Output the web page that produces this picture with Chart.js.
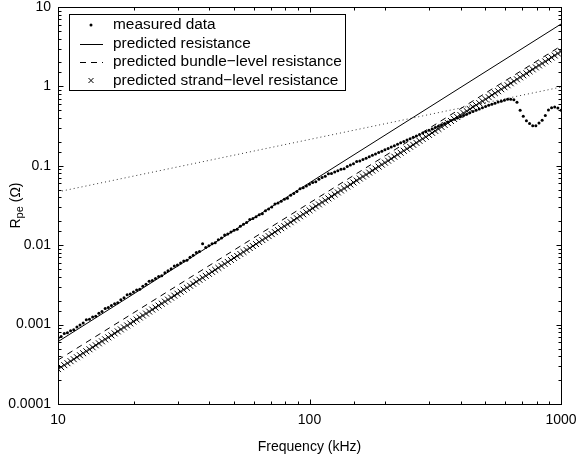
<!DOCTYPE html>
<html>
<head>
<meta charset="utf-8">
<script src="https://cdn.jsdelivr.net/npm/chart.js@4.4.1/dist/chart.umd.min.js"></script>
<style>
  html, body { margin: 0; padding: 0; background: #fff; }
  canvas { display: block; }
</style>
</head>
<body>
<canvas id="chart" width="576" height="458"></canvas>
<script>
// frequency points of the measurement (kHz)
const freq = [
  10, 10.29, 10.59, 10.9, 11.22, 11.55, 11.89, 12.23, 12.59, 12.96,
  13.34, 13.73, 14.13, 14.54, 14.96, 15.4, 15.85, 16.31, 16.79, 17.28,
  17.78, 18.3, 18.84, 19.39, 19.95, 20.54, 21.14, 21.75, 22.39, 23.04,
  23.71, 24.41, 25.12, 25.85, 26.61, 27.38, 28.18, 29.01, 29.85, 30.73,
  31.62, 32.55, 33.5, 34.48, 35.48, 36.52, 37.58, 38.68, 39.81, 40.97,
  42.17, 43.4, 44.67, 45.97, 47.32, 48.7, 50.12, 51.58, 53.09, 54.64,
  56.23, 57.88, 59.57, 61.31, 63.1, 64.94, 66.83, 68.79, 70.79, 72.86,
  74.99, 77.18, 79.43, 81.75, 84.14, 86.6, 89.13, 91.73, 94.41, 97.16,
  100, 102.9, 105.9, 109, 112.2, 115.5, 118.9, 122.3, 125.9, 129.6,
  133.4, 137.3, 141.3, 145.4, 149.6, 154, 158.5, 163.1, 167.9, 172.8,
  177.8, 183, 188.4, 193.9, 199.5, 205.4, 211.4, 217.5, 223.9, 230.4,
  237.1, 244.1, 251.2, 258.5, 266.1, 273.8, 281.8, 290.1, 298.5, 307.3,
  316.2, 325.5, 335, 344.8, 354.8, 365.2, 375.8, 386.8, 398.1, 409.7,
  421.7, 434, 446.7, 459.7, 473.2, 487, 501.2, 515.8, 530.9, 546.4,
  562.3, 578.8, 595.7, 613.1, 631, 649.4, 668.3, 687.9, 707.9, 728.6,
  749.9, 771.8, 794.3, 817.5, 841.4, 866, 891.3, 917.3, 944.1, 971.6,
  1000
];

// measured R_pe (ohm)
const measured = [
  0.000668, 0.000707, 0.000775, 0.000791, 0.000837, 0.00086, 0.000936, 0.00099, 0.001048, 0.00115,
  0.001172, 0.001243, 0.00127, 0.001386, 0.001467, 0.0016, 0.001641, 0.001735, 0.001836, 0.00188,
  0.002054, 0.002172, 0.00238, 0.002429, 0.00257, 0.002718, 0.00279, 0.003041, 0.003217, 0.00352,
  0.003598, 0.003806, 0.004025, 0.00413, 0.004503, 0.004763, 0.005038, 0.00548, 0.005635, 0.00596,
  0.006304, 0.00648, 0.007053, 0.007461, 0.00812, 0.008347, 0.0104, 0.009336, 0.009875, 0.01045,
  0.01075, 0.01169, 0.01236, 0.01345, 0.01383, 0.01462, 0.01547, 0.0159, 0.0173, 0.0183,
  0.01936, 0.0211, 0.02165, 0.0229, 0.02423, 0.0249, 0.0271, 0.02867, 0.03033, 0.033,
  0.03392, 0.03588, 0.03795, 0.0391, 0.04245, 0.0449, 0.0475, 0.0515, 0.05283, 0.05572,
  0.05877, 0.06163, 0.0629, 0.06777, 0.07106, 0.074, 0.0792, 0.0802, 0.0835, 0.08693,
  0.0905, 0.0918, 0.0981, 0.1021, 0.1063, 0.1135, 0.1153, 0.12, 0.1249, 0.1301,
  0.1354, 0.141, 0.1468, 0.1528, 0.1591, 0.1656, 0.1724, 0.1795, 0.1869, 0.1946,
  0.2026, 0.2109, 0.2196, 0.2286, 0.238, 0.2478, 0.258, 0.2686, 0.2797, 0.2912,
  0.3032, 0.3156, 0.3286, 0.3421, 0.3562, 0.3708, 0.385, 0.3996, 0.4149, 0.4307,
  0.4471, 0.4642, 0.4819, 0.5002, 0.5193, 0.5391, 0.5596, 0.5776, 0.5962, 0.6154,
  0.6352, 0.6518, 0.6689, 0.6865, 0.69, 0.68, 0.63, 0.50, 0.42, 0.37,
  0.34, 0.32, 0.32, 0.345, 0.375, 0.43, 0.505, 0.54, 0.55, 0.535,
  0.50
];

// predicted strand-level resistance, same frequencies as freq
const strandLevel = [
  2.75e-4, 2.913e-4, 3.086e-4, 3.268e-4, 3.462e-4, 3.667e-4, 3.884e-4, 4.115e-4, 4.358e-4, 4.617e-4,
  4.89e-4, 5.18e-4, 5.487e-4, 5.812e-4, 6.156e-4, 6.521e-4, 6.908e-4, 7.317e-4, 7.751e-4, 8.21e-4,
  8.696e-4, 9.212e-4, 9.757e-4, 1.0336e-3, 1.0948e-3, 1.1597e-3, 1.2284e-3, 1.3012e-3, 1.3783e-3, 1.4599e-3,
  1.5464e-3, 1.6381e-3, 1.7351e-3, 1.8379e-3, 1.9469e-3, 2.0622e-3, 2.1844e-3, 2.3139e-3, 2.4509e-3, 2.5962e-3,
  2.75e-3, 2.913e-3, 3.086e-3, 3.268e-3, 3.462e-3, 3.667e-3, 3.884e-3, 4.115e-3, 4.358e-3, 4.617e-3,
  4.89e-3, 5.18e-3, 5.487e-3, 5.812e-3, 6.156e-3, 6.521e-3, 6.908e-3, 7.317e-3, 7.751e-3, 8.21e-3,
  8.696e-3, 9.212e-3, 9.757e-3, 1.0336e-2, 1.0948e-2, 1.1597e-2, 1.2284e-2, 1.3012e-2, 1.3783e-2, 1.4599e-2,
  1.5464e-2, 1.6381e-2, 1.7351e-2, 1.8379e-2, 1.9469e-2, 2.0622e-2, 2.1844e-2, 2.3139e-2, 2.4509e-2, 2.5962e-2,
  2.75e-2, 2.913e-2, 3.086e-2, 3.268e-2, 3.462e-2, 3.667e-2, 3.884e-2, 4.115e-2, 4.358e-2, 4.617e-2,
  4.89e-2, 5.18e-2, 5.487e-2, 5.812e-2, 6.156e-2, 6.521e-2, 6.908e-2, 7.317e-2, 7.751e-2, 8.21e-2,
  8.696e-2, 9.212e-2, 9.757e-2, 0.10336, 0.10948, 0.11597, 0.12284, 0.13012, 0.13783, 0.14599,
  0.15464, 0.16381, 0.17351, 0.18379, 0.19469, 0.20622, 0.21844, 0.23139, 0.24509, 0.25962,
  0.275, 0.2913, 0.3086, 0.3268, 0.3462, 0.3667, 0.3884, 0.4115, 0.4358, 0.4617,
  0.489, 0.518, 0.5487, 0.5812, 0.6156, 0.6521, 0.6908, 0.7317, 0.7751, 0.821,
  0.8696, 0.9212, 0.9757, 1.0336, 1.0948, 1.1597, 1.2284, 1.3012, 1.3783, 1.4599,
  1.5464, 1.6381, 1.7351, 1.8379, 1.9469, 2.0622, 2.1844, 2.3139, 2.4509, 2.5962,
  2.75
];

// straight lines on the log-log plot: end points only
const lineFreq = [10, 1000];
const predicted = [6.1e-4, 6.1];
const bundleLevel = [3.58e-4, 3.23];
const dottedLine = [0.047, 0.98];

const xTickValues = [10, 100, 1000];
const xTickLabels = ['10', '100', '1000'];
const yTickValues = [0.0001, 0.001, 0.01, 0.1, 1, 10];
const yTickLabels = ['0.0001', '0.001', '0.01', '0.1', '1', '10'];

const legendLabels = [
  'measured data',
  'predicted resistance',
  'predicted bundle\u2212level resistance',
  'predicted strand\u2212level resistance'
];

const FONT = '"Liberation Sans", Arial, Helvetica, sans-serif';

function pts(xs, ys) {
  return xs.map((x, i) => ({ x: x, y: ys[i] }));
}

function isDecade(v, list) {
  return list.findIndex(t => Math.abs(Math.log10(v) - Math.log10(t)) < 1e-6);
}

const framePlugin = {
  id: 'frame',
  afterDraw(chart) {
    const ctx = chart.ctx;
    const a = chart.chartArea;
    const xs = chart.scales.x;
    const ys = chart.scales.y;
    const L = Math.round(a.left) + 0.5, R = Math.round(a.right) + 0.5;
    const T = Math.round(a.top) + 0.5, B = Math.round(a.bottom) + 0.5;

    ctx.save();
    ctx.strokeStyle = '#000';
    ctx.lineWidth = 1;
    ctx.setLineDash([]);
    ctx.strokeRect(L, T, R - L, B - T);

    // inward ticks on all four sides
    ctx.beginPath();
    xs.ticks.forEach(t => {
      const len = isDecade(t.value, xTickValues) >= 0 ? 5 : 3;
      const px = Math.round(xs.getPixelForValue(t.value)) + 0.5;
      ctx.moveTo(px, B); ctx.lineTo(px, B - len);
      ctx.moveTo(px, T); ctx.lineTo(px, T + len);
    });
    ys.ticks.forEach(t => {
      const len = isDecade(t.value, yTickValues) >= 0 ? 5 : 3;
      const py = Math.round(ys.getPixelForValue(t.value)) + 0.5;
      ctx.moveTo(L, py); ctx.lineTo(L + len, py);
      ctx.moveTo(R, py); ctx.lineTo(R - len, py);
    });
    ctx.stroke();

    // axis titles
    ctx.fillStyle = '#000';
    ctx.textBaseline = 'middle';
    ctx.textAlign = 'center';
    ctx.font = '14px ' + FONT;
    ctx.fillText('Frequency (kHz)', (a.left + a.right) / 2, 447);

    ctx.save();
    ctx.translate(16, (a.top + a.bottom) / 2);
    ctx.rotate(-Math.PI / 2);
    ctx.textAlign = 'left';
    const big = '14px ' + FONT, small = '11px ' + FONT;
    ctx.font = big; const wR = ctx.measureText('R').width;
    const wT = ctx.measureText(' (\u03A9)').width;
    ctx.font = small; const wS = ctx.measureText('pe').width;
    let x0 = -(wR + wS + wT) / 2;
    ctx.font = big; ctx.fillText('R', x0, 0);
    ctx.font = small; ctx.fillText('pe', x0 + wR, 4);
    ctx.font = big; ctx.fillText(' (\u03A9)', x0 + wR + wS, 0);
    ctx.restore();

    // legend box
    const bx = 69.5, by = 14.5, bw = 276, bh = 76;
    ctx.fillStyle = '#fff';
    ctx.fillRect(bx, by, bw, bh);
    ctx.strokeRect(bx, by, bw, bh);
    const rows = [25, 43.5, 62, 80.5];
    ctx.fillStyle = '#000';
    ctx.textAlign = 'left';
    ctx.font = '15.4px ' + FONT;
    legendLabels.forEach((lab, i) => {
      const y = rows[i];
      const cy = Math.round(y) + 0.5;
      ctx.beginPath();
      if (i === 0) {
        ctx.arc(91, y, 1.5, 0, Math.PI * 2);
        ctx.fill();
      } else if (i === 1) {
        ctx.setLineDash([]);
        ctx.moveTo(80, cy); ctx.lineTo(103, cy);
        ctx.stroke();
      } else if (i === 2) {
        ctx.setLineDash([6, 5]);
        ctx.moveTo(80, cy); ctx.lineTo(103, cy);
        ctx.stroke();
        ctx.setLineDash([]);
      } else {
        ctx.moveTo(88.5, y - 2.5); ctx.lineTo(93.5, y + 2.5);
        ctx.moveTo(93.5, y - 2.5); ctx.lineTo(88.5, y + 2.5);
        ctx.stroke();
      }
      ctx.fillText(lab, 113, y);
    });
    ctx.restore();
  }
};

new Chart(document.getElementById('chart'), {
  type: 'scatter',
  data: {
    datasets: [
      {
        label: 'measured data',
        data: pts(freq, measured),
        pointStyle: 'circle',
        pointRadius: 1.5,
        backgroundColor: '#000',
        borderWidth: 0,
        showLine: false,
        clip: 0
      },
      {
        label: 'predicted resistance',
        data: pts(lineFreq, predicted),
        showLine: true,
        borderColor: '#000',
        borderWidth: 1,
        pointRadius: 0,
        clip: 0
      },
      {
        label: 'predicted bundle-level resistance',
        data: pts(lineFreq, bundleLevel),
        showLine: true,
        borderColor: '#000',
        borderWidth: 1,
        borderDash: [6, 5],
        pointRadius: 0,
        clip: 0
      },
      {
        label: 'predicted strand-level resistance',
        data: pts(freq, strandLevel),
        pointStyle: 'crossRot',
        pointRadius: 4.2,
        borderColor: '#000',
        borderWidth: 1,
        showLine: false,
        clip: 0
      },
      {
        label: 'dotted',
        data: pts(lineFreq, dottedLine),
        showLine: true,
        borderColor: '#333',
        borderWidth: 1,
        borderDash: [1, 3],
        pointRadius: 0,
        clip: 0
      }
    ]
  },
  options: {
    responsive: false,
    animation: false,
    events: [],
    layout: { autoPadding: false, padding: { top: 7, right: 15, left: 0, bottom: 0 } },
    plugins: { legend: { display: false }, tooltip: { enabled: false } },
    scales: {
      x: {
        type: 'logarithmic',
        position: 'bottom',
        min: 10,
        max: 1000,
        grid: { display: false, drawTicks: false },
        border: { display: false },
        ticks: {
          autoSkip: false,
          maxRotation: 0,
          padding: 8,
          color: '#000',
          font: { family: FONT, size: 14 },
          callback: v => {
            const i = isDecade(v, xTickValues);
            return i >= 0 ? xTickLabels[i] : '';
          }
        },
        afterFit: s => {
          s.height = 54;
          s.paddingLeft = 0;
          s.paddingRight = 0;
        }
      },
      y: {
        type: 'logarithmic',
        position: 'left',
        min: 0.0001,
        max: 10,
        grid: { display: false, drawTicks: false },
        border: { display: false },
        ticks: {
          autoSkip: false,
          padding: 7,
          color: '#000',
          font: { family: FONT, size: 14 },
          callback: v => {
            const i = isDecade(v, yTickValues);
            return i >= 0 ? yTickLabels[i] : '';
          }
        },
        afterFit: s => {
          s.width = 58;
          s.paddingTop = 0;
          s.paddingBottom = 0;
        }
      }
    }
  },
  plugins: [framePlugin]
});
</script>
</body>
</html>
